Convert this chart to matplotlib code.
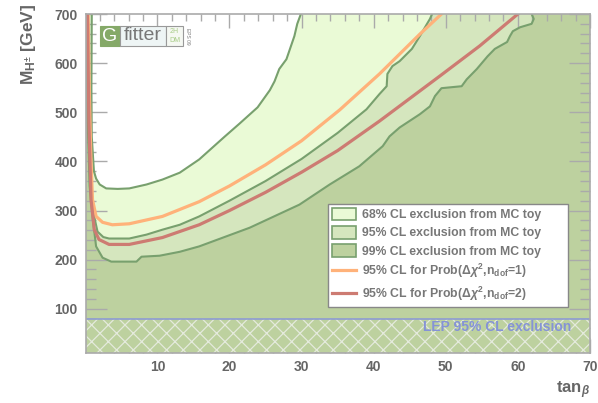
import matplotlib
matplotlib.use("Agg")
import matplotlib.pyplot as plt
import matplotlib.transforms as mtransforms
from matplotlib.patches import Patch, Rectangle
from matplotlib.lines import Line2D
from matplotlib.ticker import MultipleLocator

plt.rcParams['font.family'] = ['Liberation Sans', 'DejaVu Sans']
plt.rcParams['mathtext.fontset'] = 'custom'
plt.rcParams['mathtext.rm'] = 'Liberation Sans:bold'
plt.rcParams['mathtext.bf'] = 'Liberation Sans:bold'
plt.rcParams['mathtext.it'] = 'Liberation Sans:bold:italic'
plt.rcParams['hatch.linewidth'] = 0.9

# ---------------- data ----------------
x_range = [0.1, 70]
y_range = [10, 700]
lep_limit = 79

# 68% CL exclusion contour (boundary of the allowed, white region)
c68_x = [0.9, 0.85, 0.9, 1.2, 1.5, 2.0, 2.9, 4.5, 6.1, 8.5, 10.7, 13.1, 15.8, 19.3,
         21.4, 23.9, 25.6, 26.25, 26.9, 27.9, 29.0, 29.4, 29.9]
c68_y = [700, 550, 450, 380, 365, 353, 345, 344, 345, 353, 363, 377, 404, 450,
         477, 510, 545, 563, 588, 608, 655, 680, 700]

# 95% CL exclusion contour
c95_x = [0.25, 0.5, 0.8, 1.2, 1.7, 2.5, 3.3, 6.1, 8.5, 10.7, 13.1, 15.8, 20, 25, 30,
         35, 39.0, 40.8, 41.8, 41.9, 42.6, 43.6, 45.3, 46.4, 47.8, 48.1]
c95_y = [700, 450, 350, 290, 257, 246, 243, 243, 251, 261, 271, 288, 320, 360, 405,
         458, 506, 537, 553, 578, 594, 604, 629, 655, 690, 700]

# 99% CL exclusion contour
c99_x = [0.15, 0.3, 0.6, 1.0, 1.5, 2.4, 3.6, 7.1, 7.8, 10.3, 13.1, 15.8, 22.8, 29.7,
         33.9, 38, 41.25, 42.2, 43.6, 46.4, 47.8, 48.5, 49.4, 52.2, 52.9, 54.3, 55.8,
         56.8, 58.5, 58.9, 59.3, 60.3, 61.9, 62.2, 61.9]
c99_y = [700, 500, 350, 288, 227, 204, 196, 196, 206, 208, 216, 227, 265, 312,
         353, 390, 431, 451, 469, 496, 512, 533, 549, 553, 567, 588, 614,
         629, 643, 655, 665, 673, 680, 690, 700]

# 95% CL for Prob(dchi2, ndof=1)
n1_x = [0.4, 0.55, 0.75, 1.0, 1.5, 2.4, 3.75, 6.1, 10.7, 15.8, 20, 25, 30, 35.3, 40.8, 46.4, 49.4]
n1_y = [700, 550, 420, 322, 288, 276, 271, 273, 288, 318, 350, 393, 442, 505, 578, 659, 700]

# 95% CL for Prob(dchi2, ndof=2)
n2_x = [0.3, 0.5, 0.8, 1.25, 1.9, 3.3, 6.1, 10.7, 15.8, 20, 25, 30, 35, 40.8, 49.2, 54.7, 60.0]
n2_y = [700, 480, 322, 261, 241, 231, 231, 245, 271, 300, 337, 378, 422, 482, 574, 635, 700]

legend_labels = ['68% CL exclusion from MC toy',
                 '95% CL exclusion from MC toy',
                 '99% CL exclusion from MC toy',
                 r'95% CL for Prob($\Delta\chi^{2}$,n$_{\mathrm{dof}}$=1)',
                 r'95% CL for Prob($\Delta\chi^{2}$,n$_{\mathrm{dof}}$=2)']

# ---------------- style ----------------
col99 = '#bdd19f'
col95 = '#d5e6be'
col68 = '#eafad6'
col_edge = '#78a06e'
col_n1 = '#ffb27a'
col_n2 = '#cd7b72'
col_txt = '#666666'
col_axis = '#aaaaaa'

W, H = 598, 403
fig = plt.figure(figsize=(W / 100, H / 100), dpi=100)
ax = fig.add_axes([86 / W, 1 - 353 / H, 504 / W, 339 / H])
ax.set_xlim(*x_range)
ax.set_ylim(*y_range)
ax.set_facecolor(col99)


def closed(xs, ys):
    return list(xs) + [xs[-1], xs[0]], list(ys) + [ys[-1] + 100, ys[0] + 100]


px, py = closed(c99_x, c99_y)
ax.fill(px, py, color=col95, lw=0, zorder=1)
px, py = closed(c95_x, c95_y)
ax.fill(px, py, color=col68, lw=0, zorder=1.1)
px, py = closed(c68_x, c68_y)
ax.fill(px, py, color='white', lw=0, zorder=1.2)

for xs, ys in [(c99_x, c99_y), (c95_x, c95_y), (c68_x, c68_y)]:
    ax.plot(xs, ys, color=col_edge, lw=1.5, zorder=2, solid_joinstyle='round')
ax.plot(n1_x, n1_y, color=col_n1, lw=2.3, zorder=3)
ax.plot(n2_x, n2_y, color=col_n2, lw=2.3, zorder=3)

# LEP band
ax.fill_between(x_range, y_range[0], lep_limit, facecolor=col99, edgecolor='#e4eadc',
                hatch='xx', linewidth=0, zorder=4)
ax.axhline(lep_limit, color='#8d9bd2', lw=1.2, zorder=5)
ax.text(0.962, 62, 'LEP 95% CL exclusion',
        transform=mtransforms.blended_transform_factory(ax.transAxes, ax.transData),
        ha='right', va='center', color='#8593d6', fontsize=10, fontweight='bold', zorder=6)

# ticks
ax.xaxis.set_major_locator(MultipleLocator(10))
ax.xaxis.set_minor_locator(MultipleLocator(2))
ax.yaxis.set_major_locator(MultipleLocator(100))
ax.yaxis.set_minor_locator(MultipleLocator(20))
ax.tick_params(axis='both', which='both', direction='in', top=True, right=True,
               color=col_axis, labelcolor=col_txt, labelsize=10)
ax.tick_params(axis='x', which='major', length=10, width=1, pad=5)
ax.tick_params(axis='x', which='minor', length=5, width=1)
ax.tick_params(axis='y', which='major', length=15, width=1, pad=6)
ax.tick_params(axis='y', which='minor', length=7, width=1)
for lab in ax.get_xticklabels() + ax.get_yticklabels():
    lab.set_fontweight('bold')
for s in ax.spines.values():
    s.set_color(col_axis)
    s.set_linewidth(1.2)
    s.set_zorder(7)

# axis titles
fig.text(590 / W, 1 - 393 / H, r'tan$_{\beta}$', ha='right', va='baseline',
         fontsize=12, fontweight='bold', color=col_txt)
fig.text(29 / W, 1 - 4 / H, r'M$_{\mathrm{H}^{\pm}}$ [GeV]', rotation=90, ha='center', va='top',
         fontsize=12.5, fontweight='bold', color=col_txt)

# legend
handles = [Patch(facecolor=col68, edgecolor=col_edge, lw=1.2),
           Patch(facecolor=col95, edgecolor=col_edge, lw=1.2),
           Patch(facecolor=col99, edgecolor=col_edge, lw=1.2),
           Line2D([], [], color=col_n1, lw=2.3),
           Line2D([], [], color=col_n2, lw=2.3)]
leg = ax.legend(handles, legend_labels, loc='lower left',
                bbox_to_anchor=(0.48, 0.136, 0.476, 0.304), mode='expand',
                fontsize=8.8, frameon=True, fancybox=False, framealpha=1,
                edgecolor='#888888', handlelength=2.0, handleheight=1.25,
                labelspacing=0.38, borderpad=0.3, handletextpad=0.45, borderaxespad=0)
leg.get_frame().set_linewidth(1.0)
leg.set_zorder(8)
for t in leg.get_texts():
    t.set_color('#777777')
    t.set_fontweight('bold')

# Gfitter logo
fig.patches.append(Rectangle((100 / W, 1 - 46 / H), 20 / W, 20 / H, transform=fig.transFigure,
                             facecolor='#85a968', edgecolor='#85a968', lw=0.8, zorder=10))
fig.patches.append(Rectangle((120 / W, 1 - 46 / H), 46 / W, 20 / H, transform=fig.transFigure,
                             facecolor='#eef5f5', edgecolor='#999999', lw=0.8, zorder=10))
fig.patches.append(Rectangle((166 / W, 1 - 46 / H), 17 / W, 20 / H, transform=fig.transFigure,
                             facecolor='#f5f8f2', edgecolor='#999999', lw=0.8, zorder=10))
fig.text(110 / W, 1 - 36.5 / H, 'G', ha='center', va='center', color='white', fontsize=14, zorder=11)
fig.text(143 / W, 1 - 36 / H, 'fitter', ha='center', va='center', color='#777777', fontsize=14, zorder=11)
fig.text(174.5 / W, 1 - 31.5 / H, '2H', ha='center', va='center', color='#a8cc88', fontsize=5, zorder=11)
fig.text(174.5 / W, 1 - 40.5 / H, 'DM', ha='center', va='center', color='#a8cc88', fontsize=5, zorder=11)
fig.text(188 / W, 1 - 36 / H, 'EPS 09', ha='center', va='center', color='#777777', fontsize=3.5,
         rotation=-90, zorder=11)

fig.savefig('out.png', dpi=100)
